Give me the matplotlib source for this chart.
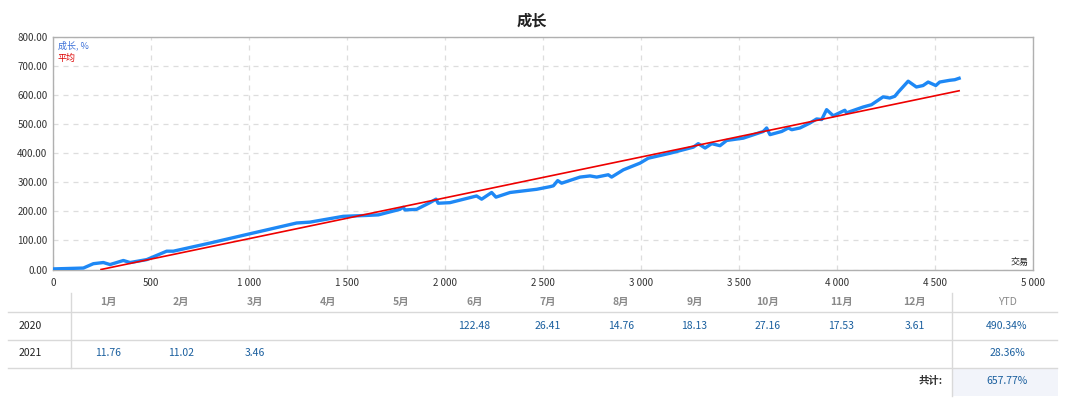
import matplotlib
matplotlib.use("Agg")
import matplotlib.pyplot as plt
from matplotlib.ticker import FuncFormatter, MultipleLocator
from matplotlib.patches import Rectangle

plt.rcParams['font.family'] = ['Noto Sans CJK SC', 'DejaVu Sans']

# ---- data ----
trades = [0, 155, 206, 257, 291, 359, 393, 478, 580, 614, 801, 1005, 1243, 1311, 1481,
          1600, 1660, 1770, 1787, 1796, 1855, 1923, 1954, 1965, 2025, 2161, 2187, 2238,
          2260, 2332, 2468, 2536, 2553, 2575, 2595, 2689, 2740, 2774, 2833, 2850, 2910,
          2995, 3037, 3148, 3267, 3292, 3327, 3361, 3403, 3437, 3522, 3624, 3641, 3658,
          3718, 3752, 3769, 3811, 3862, 3896, 3922, 3947, 3981, 4040, 4048, 4133, 4176,
          4235, 4269, 4295, 4312, 4363, 4405, 4439, 4465, 4504, 4524, 4575, 4601, 4623]
growth = [2, 5, 20, 24, 17, 31, 24, 34, 63, 63, 91, 123, 160, 163, 183,
          186, 188, 207, 214, 205, 207, 230, 242, 228, 230, 253, 242, 265,
          249, 265, 276, 285, 288, 306, 297, 318, 322, 318, 326, 318, 343,
          366, 383, 400, 421, 433, 418, 433, 426, 444, 452, 475, 487, 464,
          475, 487, 481, 487, 504, 518, 516, 550, 529, 548, 539, 559, 567,
          594, 590, 596, 610, 648, 628, 633, 645, 633, 645, 651, 653, 658]
avg_x = [245, 4623]
avg_y = [0, 615]

months = ['1月', '2月', '3月', '4月', '5月', '6月', '7月', '8月', '9月', '10月', '11月', '12月']
years = ['2020', '2021']
monthly = {
    '2020': [None, None, None, None, None, 122.48, 26.41, 14.76, 18.13, 27.16, 17.53, 3.61],
    '2021': [11.76, 11.02, 3.46, None, None, None, None, None, None, None, None, None],
}
ytd = {'2020': '490.34%', '2021': '28.36%'}
total_label = '共计:'
total_value = '657.77%'

W, H = 1067, 400
fig = plt.figure(figsize=(W / 100, H / 100), dpi=100)

# ---- chart ----
ax = fig.add_axes([53 / W, 1 - 269.5 / H, (1033 - 53) / W, (269.5 - 37) / H])
ax.plot(trades, growth, color='#1e88f5', lw=2.4, solid_joinstyle='round', zorder=3)
ax.plot(avg_x, avg_y, color='#ee0000', lw=1.2, zorder=4)
ax.set_xlim(0, 5000)
ax.set_ylim(0, 800)
ax.xaxis.set_major_locator(MultipleLocator(500))
ax.yaxis.set_major_locator(MultipleLocator(100))
ax.xaxis.set_major_formatter(FuncFormatter(lambda v, p: f"{int(v):,}".replace(',', ' ')))
ax.yaxis.set_major_formatter(FuncFormatter(lambda v, p: f"{v:.2f}"))
ax.tick_params(axis='both', length=0, labelsize=7, colors='#333333', pad=4)
ax.tick_params(axis='x', pad=6)
ax.grid(True, color='#dddddd', linestyle=(0, (4, 4)), lw=0.9)
for s in ax.spines.values():
    s.set_color('#b0b0b0')
    s.set_linewidth(1)
ax.text(0.005, 0.965, '成长, %', transform=ax.transAxes, color='#3a6fd8', fontsize=6.5, va='center')
ax.text(0.005, 0.91, '平均', transform=ax.transAxes, color='#dd0000', fontsize=6.5, va='center')
ax.text(0.995, 0.03, '交易', transform=ax.transAxes, color='#222222', fontsize=6.5, ha='right', va='center')

fig.text(532 / W, 1 - 21 / H, '成长', ha='center', va='center', fontsize=11, fontweight='bold', color='#222222')

# ---- table ----
tx = fig.add_axes([0, 0, 1, 1])
tx.set_xlim(0, W)
tx.set_ylim(H, 0)
tx.axis('off')

line_c = '#d9d9d9'
for yl in (312, 340, 368):
    tx.plot([8, 1057], [yl, yl], color=line_c, lw=1)
tx.plot([71, 71], [293, 368], color=line_c, lw=1)
tx.plot([952, 952], [293, 396], color=line_c, lw=1)
tx.add_patch(Rectangle((952.5, 368.5), 105, 27, facecolor='#f2f4fa', edgecolor='none'))

col0, dcol = 108, 73.3
header_y, row_y, total_y = 302, [326, 353], 381
for i, m in enumerate(months):
    tx.text(col0 + i * dcol, header_y, m, ha='center', va='center', fontsize=7.5, color='#8a8a8a', fontweight='bold')
tx.text(1007, header_y, 'YTD', ha='center', va='center', fontsize=7.5, color='#8a8a8a')
for r, yr in enumerate(years):
    tx.text(30, row_y[r], yr, ha='center', va='center', fontsize=7.5, color='#222222', fontweight='medium')
    for i, v in enumerate(monthly[yr]):
        if v is not None:
            tx.text(col0 + i * dcol, row_y[r], f"{v:.2f}", ha='center', va='center', fontsize=7.5, color='#1a5f9e')
    tx.text(1007, row_y[r], ytd[yr], ha='center', va='center', fontsize=7.5, color='#1a5f9e')
tx.text(943, total_y, total_label, ha='right', va='center', fontsize=7.5, color='#333333', fontweight='bold')
tx.text(1007, total_y, total_value, ha='center', va='center', fontsize=7.5, color='#1a5f9e')

fig.savefig('out.png', dpi=100)
